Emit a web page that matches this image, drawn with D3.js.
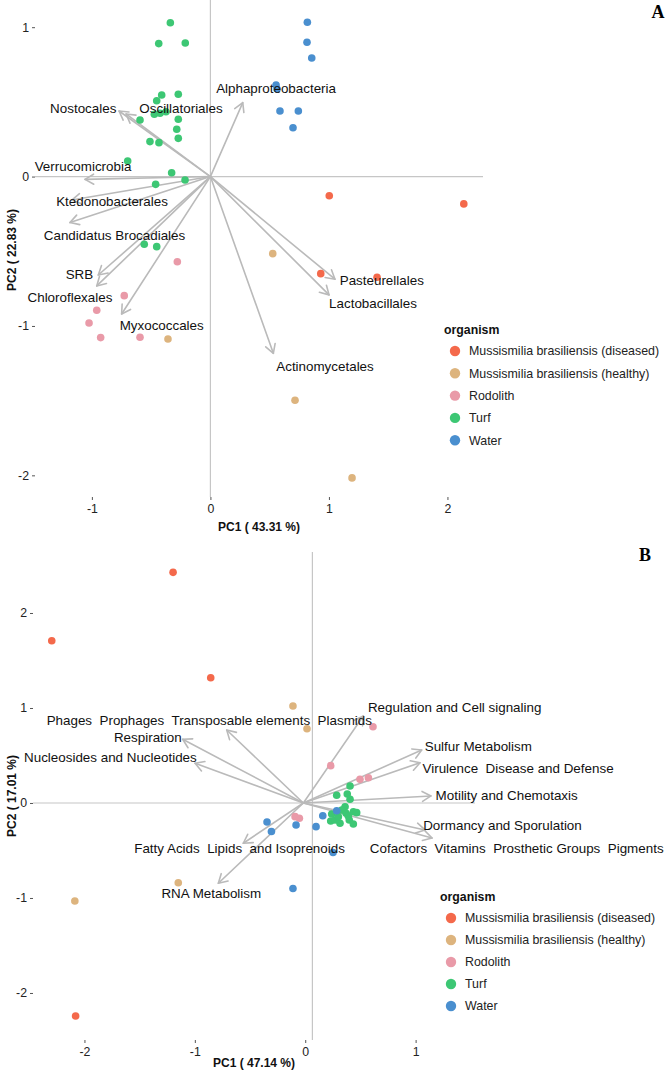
<!DOCTYPE html>
<html><head><meta charset="utf-8">
<script src="https://cdn.jsdelivr.net/npm/d3@7"></script>
<style>
html,body{margin:0;padding:0;background:#fff;}
svg text{font-family:"Liberation Sans",Arial,Helvetica,sans-serif;}
</style></head>
<body><svg id="chart" width="667" height="1071"></svg>
<script>
// ---------- DATA ----------
const groups = ["Mussismilia brasiliensis (diseased)", "Mussismilia brasiliensis (healthy)", "Rodolith", "Turf", "Water"];
const groupColors = ["#F4694B", "#DDB47E", "#E99AA8", "#3DC774", "#4A8FCF"];

// Panel A scores [PC1, PC2]
const A_diseased = [[1.003,-0.128],[2.138,-0.183],[0.931,-0.650],[1.406,-0.674]];
const A_healthy  = [[0.526,-0.516],[0.714,-1.497],[1.195,-2.017],[-0.358,-1.087]];
const A_rodolith = [[-0.279,-0.570],[-0.727,-0.797],[-0.959,-0.895],[-1.024,-0.980],[-0.926,-1.078],[-0.594,-1.076]];
const A_turf = [[-0.338,1.030],[-0.436,0.890],[-0.212,0.894],[-0.411,0.546],[-0.271,0.551],[-0.453,0.508],
  [-0.375,0.434],[-0.425,0.424],[-0.473,0.417],[-0.594,0.379],[-0.271,0.384],[-0.284,0.317],[-0.271,0.256],
  [-0.510,0.234],[-0.434,0.227],[-0.698,0.104],[-0.327,0.026],[-0.214,-0.023],[-0.462,-0.052],[-0.558,-0.453],[-0.453,-0.469]];
const A_water = [[0.818,1.033],[0.815,0.899],[0.855,0.794],[0.554,0.613],[0.562,0.586],[0.587,0.439],[0.742,0.439],[0.697,0.327]];

// Panel A loadings (arrow tips) and label positions
const A_varNames = ["Nostocales","Oscillatoriales","Alphaproteobacteria","Verrucomicrobia","Ktedonobacterales",
  "Candidatus Brocadiales","SRB","Chloroflexales","Myxococcales","Actinomycetales","Pasteurellales","Lactobacillales"];
const A_varTips = [[-0.771,0.439],[-0.712,0.419],[0.273,0.495],[-1.058,-0.019],[-1.170,-0.157],[-1.185,-0.308],
  [-0.946,-0.659],[-0.959,-0.732],[-0.749,-0.920],[0.531,-1.183],[1.051,-0.687],[1.001,-0.792]];
const A_varLabelPos = [[-1.073,0.457],[-0.248,0.459],[0.554,0.593],[-1.075,0.071],[-0.830,-0.163],[-0.809,-0.391],
  [-1.105,-0.657],[-1.185,-0.811],[-0.411,-0.998],[0.967,-1.268],[1.446,-0.692],[1.372,-0.848]];
const A_xTicks = [-1, 0, 1, 2];
const A_yTicks = [-2, -1, 0, 1];
const A_xTitle = "PC1 ( 43.31 %)";
const A_yTitle = "PC2 ( 22.83 %)";

// Panel B scores [PC1, PC2]
const B_diseased = [[-1.197,2.428],[-2.296,1.708],[-0.856,1.319],[-2.080,-2.242]];
const B_healthy  = [[-0.111,1.021],[0.016,0.782],[-1.150,-0.839],[-2.087,-1.032]];
const B_rodolith = [[0.614,0.803],[0.231,0.393],[0.496,0.249],[0.572,0.266],[-0.092,-0.144],[-0.053,-0.161]];
const B_turf = [[0.406,0.179],[0.285,0.081],[0.381,0.095],[0.406,0.039],[0.361,-0.039],[0.331,-0.074],[0.240,-0.116],
  [0.436,-0.092],[0.231,-0.189],[0.315,-0.214],[0.399,-0.179],[0.436,-0.221],[0.270,-0.179],[0.370,-0.108],
  [0.466,-0.102],[0.300,-0.144],[0.390,-0.137]];
const B_water = [[-0.346,-0.200],[-0.306,-0.300],[-0.083,-0.232],[0.098,-0.249],[0.159,-0.134],[0.252,-0.521],[0.285,-0.081],[-0.111,-0.900]];

const B_varNames = ["Phages  Prophages  Transposable elements  Plasmids","Respiration","Nucleosides and Nucleotides",
  "Regulation and Cell signaling","Sulfur Metabolism","Virulence  Disease and Defense","Motility and Chemotaxis",
  "Dormancy and Sporulation","Cofactors  Vitamins  Prosthetic Groups  Pigments","Fatty Acids  Lipids  and Isoprenoids","RNA Metabolism"];
const B_varTips = [[-0.711,0.768],[-1.110,0.671],[-0.998,0.418],[0.526,0.916],[1.055,0.558],[1.040,0.424],
  [1.139,0.074],[1.085,-0.284],[1.149,-0.368],[-0.561,-0.424],[-0.787,-0.845]];
const B_varLabelPos = [[-0.869,0.866],[-1.426,0.691],[-1.765,0.481],[1.354,1.003],[1.568,0.600],[1.928,0.365],
  [1.825,0.084],[1.787,-0.232],[1.916,-0.477],[-0.595,-0.477],[-0.851,-0.951]];
const B_xTicks = [-2, -1, 0, 1];
const B_yTicks = [-2, -1, 0, 1, 2];
const B_xTitle = "PC1 ( 47.14 %)";
const B_yTitle = "PC2 ( 17.01 %)";

// ---------- DRAW ----------
const svg = d3.select("#chart");
const lineGray = "#c6c6c6";
const arrowGray = "#bababa";

function panel(cfg) {
  const x = d3.scaleLinear().domain(cfg.xDomain).range([cfg.left, cfg.right]);
  const y = d3.scaleLinear().domain(cfg.yDomain).range([cfg.bottom, cfg.top]);
  const g = svg.append("g");

  // reference lines
  g.append("line").attr("x1", cfg.left).attr("x2", cfg.right).attr("y1", y(0)).attr("y2", y(0))
    .attr("stroke", lineGray).attr("stroke-width", 1.2);
  g.append("line").attr("x1", x(cfg.vline)).attr("x2", x(cfg.vline)).attr("y1", cfg.top).attr("y2", cfg.bottom)
    .attr("stroke", lineGray).attr("stroke-width", 1.2);

  // axes
  const ax = g.append("g").attr("transform", `translate(0,${cfg.bottom})`)
    .call(d3.axisBottom(x).tickValues(cfg.xTicks).tickFormat(d => String(d)).tickSize(3).tickPadding(4));
  const ay = g.append("g").attr("transform", `translate(${cfg.left},0)`)
    .call(d3.axisLeft(y).tickValues(cfg.yTicks).tickFormat(d => String(d)).tickSize(3).tickPadding(3));
  [ax, ay].forEach(a => {
    a.select(".domain").remove();
    a.selectAll(".tick line").attr("stroke", "#555").attr("stroke-width", 1);
    a.selectAll(".tick text").attr("fill", "#222").attr("font-size", 12.3)
      .style("font-family", "'Liberation Sans',Arial,sans-serif");
  });

  // axis titles
  g.append("text").attr("x", (cfg.left + cfg.right) / 2).attr("y", cfg.xTitleY)
    .attr("text-anchor", "middle").attr("font-size", 12).attr("font-weight", "bold").attr("fill", "#111")
    .text(cfg.xTitle);
  g.append("text").attr("transform", `translate(${cfg.yTitleX},${cfg.yTitleY}) rotate(-90)`)
    .attr("text-anchor", "middle").attr("font-size", 12).attr("font-weight", "bold").attr("fill", "#111")
    .text(cfg.yTitle);

  // arrows
  const ox = x(cfg.origin[0]), oy = y(cfg.origin[1]);
  const ag = g.append("g").attr("stroke", arrowGray).attr("stroke-width", 1.6).attr("fill", "none")
    .attr("stroke-linecap", "round").attr("stroke-linejoin", "round");
  cfg.tips.forEach(t => {
    const tx = x(t[0]), ty = y(t[1]);
    const ang = Math.atan2(ty - oy, tx - ox);
    const L = 10, a = Math.PI / 6;
    const p1 = [tx - L * Math.cos(ang - a), ty - L * Math.sin(ang - a)];
    const p2 = [tx - L * Math.cos(ang + a), ty - L * Math.sin(ang + a)];
    ag.append("line").attr("x1", ox).attr("y1", oy).attr("x2", tx).attr("y2", ty);
    ag.append("path").attr("d", `M${p1[0]},${p1[1]}L${tx},${ty}L${p2[0]},${p2[1]}`);
  });

  // points
  const pg = g.append("g");
  cfg.scores.forEach((arr, gi) => {
    pg.selectAll(null).data(arr).enter().append("circle")
      .attr("cx", d => x(d[0])).attr("cy", d => y(d[1])).attr("r", 3.8)
      .attr("fill", groupColors[gi]);
  });

  // variable labels
  g.append("g").selectAll("text").data(cfg.names).enter().append("text")
    .attr("x", (d, i) => x(cfg.labelPos[i][0])).attr("y", (d, i) => y(cfg.labelPos[i][1]))
    .attr("dy", "0.35em").attr("text-anchor", "middle").attr("font-size", 13.4).attr("fill", "#111")
    .style("white-space", "pre").text(d => d);

  // legend
  const lg = g.append("g").attr("transform", `translate(${cfg.legend[0]},${cfg.legend[1]})`);
  lg.append("text").attr("x", 0).attr("y", 4).attr("font-size", 12.3).attr("font-weight", "bold").attr("fill", "#111")
    .text("organism");
  groups.forEach((name, i) => {
    const cy = 21 + i * cfg.legendStep;
    lg.append("circle").attr("cx", 11).attr("cy", cy).attr("r", 5.2).attr("fill", groupColors[i]);
    lg.append("text").attr("x", 25).attr("y", cy + 4.3).attr("font-size", 12.4).attr("fill", "#222").text(name);
  });

  // panel letter
  svg.append("text").attr("x", cfg.letter[0]).attr("y", cfg.letter[1]).attr("text-anchor", "middle")
    .style("font-family", "'Liberation Serif','Times New Roman',serif")
    .attr("font-size", 18).attr("font-weight", "bold").attr("fill", "#000").text(cfg.letterText);
}

panel({
  xDomain: [-1.48, 2.30], yDomain: [-2.145, 1.182], left: 35, right: 483, top: 0, bottom: 497,
  vline: 0, origin: [0, 0], xTicks: A_xTicks, yTicks: A_yTicks,
  xTitle: A_xTitle, yTitle: A_yTitle, xTitleY: 531, yTitleX: 16, yTitleY: 250,
  tips: A_varTips, names: A_varNames, labelPos: A_varLabelPos,
  scores: [A_diseased, A_healthy, A_rodolith, A_turf, A_water],
  legend: [444, 330], legendStep: 22.3, letter: [658, 18], letterText: "A"
});

panel({
  xDomain: [-2.466, 1.538], yDomain: [-2.495, 2.642], left: 33, right: 475, top: 552, bottom: 1040,
  vline: 0.065, origin: [-0.017, 0], xTicks: B_xTicks, yTicks: B_yTicks,
  xTitle: B_xTitle, yTitle: B_yTitle, xTitleY: 1067, yTitleX: 16, yTitleY: 796,
  tips: B_varTips, names: B_varNames, labelPos: B_varLabelPos,
  scores: [B_diseased, B_healthy, B_rodolith, B_turf, B_water],
  legend: [440, 897], legendStep: 22, letter: [645, 561], letterText: "B"
});
</script></body></html>
